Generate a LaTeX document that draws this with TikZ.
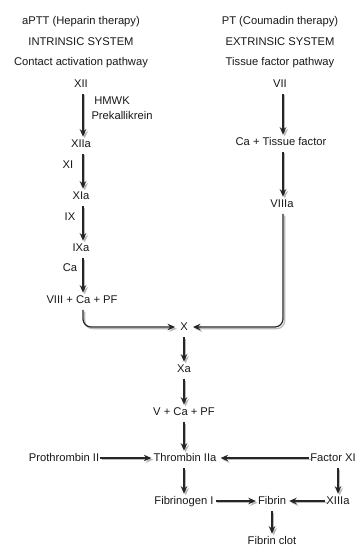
\documentclass[tikz,border=0pt]{standalone}
\usepackage{fontspec}
\setmainfont{Liberation Sans}
\usetikzlibrary{arrows.meta,calc}
\begin{document}
\begin{tikzpicture}[x=1pt,y=-1pt,
  lbl/.style={inner sep=1pt, font=\fontsize{11.2}{13}\selectfont, text height=8.2pt, text depth=2pt, text=black!90},
  arr/.style={line width=1.2pt, draw=black!85, shorten <=3.5pt, shorten >=1pt,
    -{Stealth[length=7.5pt,width=6.5pt]},
    preaction={draw=gray!55, line width=1.2pt, transform canvas={xshift=1.7pt,yshift=-1.7pt}}}]
\useasboundingbox[fill=white] (0,0) rectangle (357,545);
% headings
\node[lbl] (aptt) at (81,21) {aPTT (Heparin therapy)};
\node[lbl] (intr) at (81,42) {INTRINSIC SYSTEM};
\node[lbl] (cap) at (81,62) {Contact activation pathway};
\node[lbl] (pt) at (280,21) {PT (Coumadin therapy)};
\node[lbl] (extr) at (280,42) {EXTRINSIC SYSTEM};
\node[lbl] (tfp) at (280,62) {Tissue factor pathway};
% intrinsic
\node[lbl] (XII) at (81,84) {XII};
\node[lbl] (hmwk) at (112,101) {HMWK};
\node[lbl] (prek) at (122,116) {Prekallikrein};
\node[lbl] (XIIa) at (81,144) {XIIa};
\node[lbl] (XI) at (68,165) {XI};
\node[lbl] (XIa) at (81,196) {XIa};
\node[lbl] (IX) at (70,217) {IX};
\node[lbl] (IXa) at (81,248) {IXa};
\node[lbl] (Ca) at (70,268) {Ca};
\node[lbl] (VIII) at (82,300) {VIII + Ca + PF};
% extrinsic
\node[lbl] (VII) at (280,84) {VII};
\node[lbl] (CaTF) at (281,142) {Ca + Tissue factor};
\node[lbl] (VIIIa) at (282,204) {VIIIa};
% common
\node[lbl] (X) at (184,327) {X};
\node[lbl] (Xa) at (184,369) {Xa};
\node[lbl] (VCa) at (184,412) {V + Ca + PF};
\node[lbl] (Thr) at (185,458) {Thrombin IIa};
\node[lbl] (Pro) at (64,458) {Prothrombin II};
\node[lbl] (FXI) at (333,458) {Factor XI};
\node[lbl] (Fbg) at (184,501) {Fibrinogen I};
\node[lbl] (Fib) at (272,501) {Fibrin};
\node[lbl] (XIIIa) at (338,501) {XIIIa};
\node[lbl] (clot) at (272,541) {Fibrin clot};
% arrows intrinsic
\draw[arr] ([xshift=2pt]XII.south) -- ([xshift=2pt]XIIa.north);
\draw[arr] ([xshift=2pt]XIIa.south) -- ([xshift=2pt]XIa.north);
\draw[arr] ([xshift=2pt]XIa.south) -- ([xshift=2pt]IXa.north);
\draw[arr] ([xshift=2pt]IXa.south) -- ([xshift=1pt]VIII.north);
\draw[arr, rounded corners=8pt, shorten >=4pt] ([xshift=1pt]VIII.south) |- (X.west);
% arrows extrinsic
\draw[arr] ([xshift=3pt]VII.south) -- ([xshift=2pt]CaTF.north);
\draw[arr] ([xshift=2pt]CaTF.south) -- ([xshift=1pt]VIIIa.north);
\draw[arr, rounded corners=8pt, shorten >=4pt] ([xshift=1pt]VIIIa.south) |- (X.east);
% common
\draw[arr] (X.south) -- (Xa.north);
\draw[arr] (Xa.south) -- (VCa.north);
\draw[arr] (VCa.south) -- (VCa.south |- Thr.north);
\draw[arr, shorten <=0pt] (Pro.east) -- (Thr.west);
\draw[arr, shorten <=0pt, shorten >=3pt] (FXI.west) -- (Thr.east);
\draw[arr] (Thr.south -| Fbg.north) -- (Fbg.north);
\draw[arr, shorten <=1pt] (Fbg.east) -- (Fib.west);
\draw[arr, shorten <=0pt, shorten >=2pt] (XIIIa.west) -- (Fib.east);
\draw[arr] (XIIIa.north |- FXI.south) -- (XIIIa.north);
\draw[arr] (Fib.south) -- (clot.north);
\end{tikzpicture}
\end{document}
